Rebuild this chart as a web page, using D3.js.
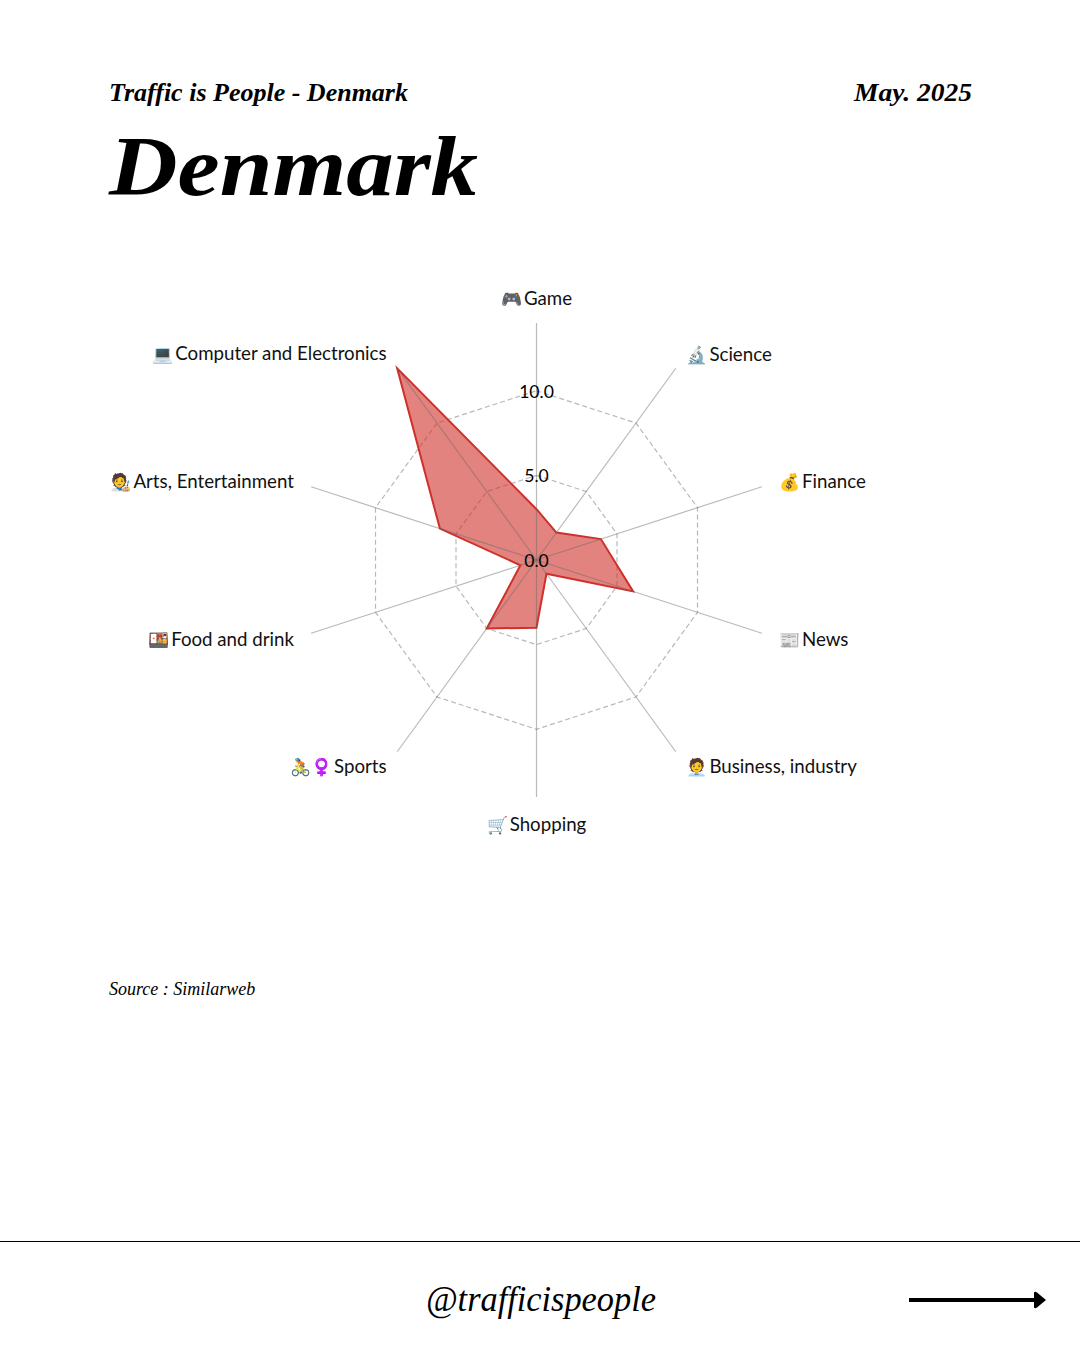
<!DOCTYPE html>
<html>
<head>
<meta charset="utf-8">
<script src="https://cdn.jsdelivr.net/npm/d3@7"></script>
<style>
  html, body { margin: 0; background: #fff; }
  .serif { font-family: "Liberation Serif", serif; font-style: italic; fill: #000; }
  .cat { font-family: Lato, "Noto Sans", sans-serif; font-size: 18.7px; fill: #111; }
</style>
</head>
<body>
<div id="chart"></div>
<script>
// categories run clockwise from the top
const categories = ['Game', 'Science', 'Finance', 'News', 'Business, industry',
  'Shopping', 'Sports', 'Food and drink', 'Arts, Entertainment', 'Computer and Electronics'];
const icons = ['🎮', '🔬', '💰', '📰', '🧑‍💼', '🛒', '🚴\u2640\uFE0F', '🍱', '🧑‍🎨', '💻'];
const values = [3, 2, 4, 6, 1, 4, 5, 1, 6, 14];
const rings = [5, 10];
const ringLabels = [0, 5, 10];
const maxValue = 14;

const width = 1080;
const height = 1350;
const cx = 536.5;
const cy = 560;

const svg = d3.select('#chart').append('svg')
  .attr('width', width)
  .attr('height', height)
  .style('display', 'block');

// header, the original serif is wider than liberation so stretch it with textLength
const serifText = (x, y, size, weight, len, anchor, txt) => {
  const t = svg.append('text').attr('class', 'serif')
    .attr('x', x).attr('y', y)
    .attr('text-anchor', anchor)
    .style('font-size', size + 'px')
    .style('font-weight', weight)
    .text(txt);
  if (len) t.attr('textLength', len).attr('lengthAdjust', 'spacingAndGlyphs');
  return t;
};
serifText(109, 101, 26, 700, 299, 'start', 'Traffic is People - Denmark');
serifText(972, 101, 26, 700, 118, 'end', 'May. 2025');
serifText(109, 195, 84, 700, 369, 'start', 'Denmark');

// radar
const r = d3.scaleLinear().domain([0, maxValue]).range([0, 237]);
const angle = d3.scalePoint().domain(d3.range(categories.length + 1)).range([0, 2 * Math.PI]);
const g = svg.append('g').attr('transform', 'translate(' + cx + ',' + cy + ')');

const polar = (i, rad) => [Math.sin(angle(i)) * rad, -Math.cos(angle(i)) * rad];

// dashed rings
g.selectAll('.ring').data(rings).enter().append('path')
  .attr('class', 'ring')
  .attr('d', d => d3.lineRadial().angle((c, i) => angle(i)).radius(() => r(d)).curve(d3.curveLinearClosed)(categories))
  .attr('fill', 'none')
  .attr('stroke', '#b8b8b8')
  .attr('stroke-width', 1.2)
  .attr('stroke-dasharray', '5,3');

// area
g.append('path')
  .attr('d', d3.lineRadial().angle((v, i) => angle(i)).radius(v => r(v)).curve(d3.curveLinearClosed)(values))
  .attr('fill', '#d0302a')
  .attr('fill-opacity', 0.6)
  .attr('stroke', '#d0302a')
  .attr('stroke-width', 2)
  .attr('stroke-linejoin', 'miter');

// spokes
g.selectAll('.spoke').data(categories).enter().append('line')
  .attr('class', 'spoke')
  .attr('x1', 0).attr('y1', 0)
  .attr('x2', (d, i) => polar(i, r(maxValue))[0])
  .attr('y2', (d, i) => polar(i, r(maxValue))[1])
  .attr('stroke', '#666')
  .attr('stroke-opacity', 0.45)
  .attr('stroke-width', 1.2);

// ring labels
g.selectAll('.tick').data(ringLabels).enter().append('text')
  .attr('class', 'cat tick')
  .attr('x', 0)
  .attr('y', d => -r(d) + 7)
  .attr('text-anchor', 'middle')
  .style('fill', '#000')
  .style('font-size', '17.6px')
  .text(d => d.toFixed(1));

// category labels, small dy differences per label to sit where the original does
const labelDy = [3, 1, 0, 1, 0, -3, 0, 1, 0, 0];
const names = g.selectAll('.name').data(categories).enter().append('text')
  .attr('class', 'cat name')
  .attr('x', (d, i) => polar(i, r(maxValue) + 18)[0])
  .attr('y', (d, i) => polar(i, r(maxValue) + 18)[1] + labelDy[i])
  .attr('dy', (d, i) => i === 0 ? '-0.15em' : i === 5 ? '1em' : '0.35em')
  .attr('text-anchor', (d, i) => i === 0 || i === 5 ? 'middle' : i < 5 ? 'start' : 'end');
names.append('tspan').style('font-size', '17px').text((d, i) => icons[i]);
names.append('tspan').attr('dx', 2).text(d => d);

// source
serifText(109, 995, 18, 400, null, 'start', 'Source : Similarweb');

// footer
svg.append('line').attr('x1', 0).attr('x2', width).attr('y1', 1241.5).attr('y2', 1241.5)
  .attr('stroke', '#000').attr('stroke-width', 1);
serifText(426, 1311, 36, 400, 230, 'start', '@trafficispeople');
svg.append('line').attr('x1', 909).attr('x2', 1036).attr('y1', 1300).attr('y2', 1300)
  .attr('stroke', '#000').attr('stroke-width', 4);
svg.append('path').attr('d', 'M1034,1292.5Q1035,1291 1037,1292.5L1046,1300L1037,1307.5Q1035,1309 1034,1307.5Z').attr('fill', '#000');
</script>
</body>
</html>
